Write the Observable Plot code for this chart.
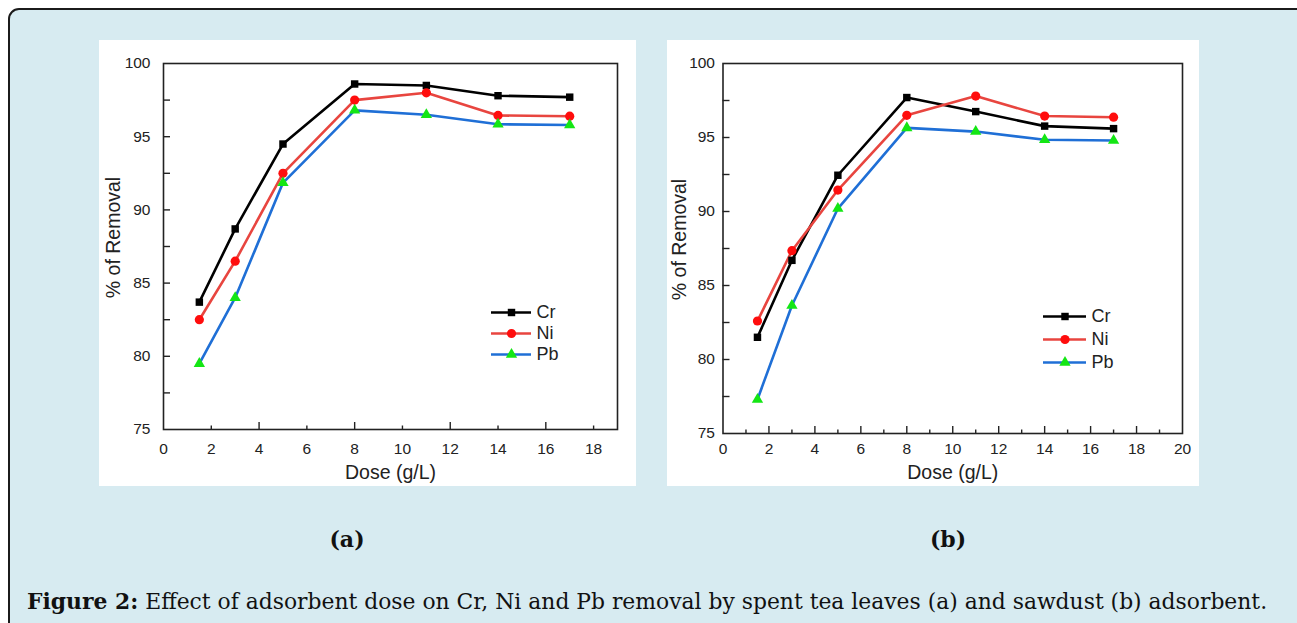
<!DOCTYPE html>
<html>
<head>
<meta charset="utf-8">
<script src="https://cdn.jsdelivr.net/npm/d3@7"></script>
<script src="https://cdn.jsdelivr.net/npm/@observablehq/plot@0.6"></script>
<style>
  html, body { margin: 0; padding: 0; background: #ffffff; width: 1297px; height: 623px; overflow: hidden; }
  #box { position: absolute; left: 8px; top: 8px; width: 1310px; height: 640px; box-sizing: border-box;
         border: 2px solid #1b1b1b; border-radius: 11px; background: #d7ebf1; }
  .panel { position: absolute; top: 40px; background: #fff; }
  .legend { position: absolute; }
  .sub { position: absolute; font-family: "DejaVu Serif", serif; font-weight: bold; font-size: 22px; color: #111;
         transform: translate(-50%, -50%); white-space: nowrap; }
  #caption { position: absolute; left: 27px; top: 0; font-family: "DejaVu Serif", serif; color: #111; white-space: nowrap; }
</style>
</head>
<body>
<div id="box"></div>
<div id="pa" class="panel" style="left:99px;"></div>
<div id="pb" class="panel" style="left:667px;"></div>
<div id="la" class="legend"></div>
<div id="lb" class="legend"></div>
<div class="sub" style="left:347px; top:539px;">(a)</div>
<div class="sub" style="left:948px; top:539px;">(b)</div>
<div id="caption"><b>Figure 2:</b> Effect of adsorbent dose on Cr, Ni and Pb removal by spent tea leaves (a) and sawdust (b) adsorbent.</div>
<script>
// ---------- data ----------
const metals = ["Cr", "Ni", "Pb"];
const dose = [1.5, 3, 5, 8, 11, 14, 17];

// (a) spent tea leaves
const crA = [83.7, 88.7, 94.5, 98.6, 98.5, 97.8, 97.7];
const niA = [82.5, 86.5, 92.5, 97.5, 98.0, 96.45, 96.4];
const pbA = [79.5, 84.0, 91.85, 96.8, 96.5, 95.85, 95.8];

// (b) sawdust
const crB = [81.5, 86.7, 92.45, 97.7, 96.75, 95.77, 95.6];
const niB = [82.6, 87.35, 91.45, 96.5, 97.8, 96.45, 96.37];
const pbB = [77.3, 83.65, 90.2, 95.65, 95.4, 94.85, 94.8];

const yLabelTicks = [75, 80, 85, 90, 95, 100];
const yMinorTicks = [77.5, 80, 82.5, 85, 87.5, 90, 92.5, 95, 97.5];
const xLabelTicksA = [0, 2, 4, 6, 8, 10, 12, 14, 16, 18];
const xLabelTicksB = [0, 2, 4, 6, 8, 10, 12, 14, 16, 18, 20];

// ---------- styles ----------
const lineColor = {Cr: "#000000", Ni: "#e8453f", Pb: "#1f6fd6"};
const markColor = {Cr: "#000000", Ni: "#ff0d0d", Pb: "#14e614"};
const symbol = {Cr: "square", Ni: "circle", Pb: "triangle"};
const markR = {Cr: 4.2, Ni: 4.6, Pb: 4.2};
const FONT = "'Liberation Sans', Arial, sans-serif";

function rows(cr, ni, pb) {
  const out = [];
  dose.forEach((d, i) => {
    out.push({metal: "Cr", dose: d, v: cr[i]});
    out.push({metal: "Ni", dose: d, v: ni[i]});
    out.push({metal: "Pb", dose: d, v: pb[i]});
  });
  return out;
}

function chart(data, o) {
  const seriesMarks = [];
  for (const m of metals) {
    const sub = data.filter(d => d.metal === m);
    seriesMarks.push(Plot.line(sub, {x: "dose", y: "v", stroke: lineColor[m], strokeWidth: 2.6}));
  }
  for (const m of metals) {
    const sub = data.filter(d => d.metal === m);
    seriesMarks.push(Plot.dot(sub, {x: "dose", y: "v", symbol: symbol[m], fill: markColor[m], stroke: "none", r: markR[m]}));
  }
  return Plot.plot({
    width: o.width, height: 446,
    marginLeft: o.ml, marginRight: o.mr, marginTop: 23, marginBottom: o.mb,
    style: {background: "white", fontFamily: FONT, fontSize: "15px", color: "#222", overflow: "visible"},
    x: {domain: o.xdomain},
    y: {domain: [75, 100]},
    marks: [
      ...seriesMarks,
      Plot.frame({stroke: "#222", strokeWidth: 1.6}),
      Plot.axisX({ticks: o.xLabels, tickSize: 0, tickPadding: o.xpad, tickFormat: d => String(d), label: null, fontSize: 15.5}),
      Plot.axisX({ticks: o.xMajor, tickSize: -7, text: null, label: null, strokeWidth: 1.4}),
      Plot.axisX({ticks: o.xMinor, tickSize: -3.5, text: null, label: null, strokeWidth: 1.4}),
      Plot.axisY({ticks: yLabelTicks, tickSize: 0, tickPadding: o.ypad, tickFormat: d => String(d), label: null, fontSize: 15.5}),
      Plot.axisY({ticks: yMinorTicks, tickSize: -7, text: null, label: null, strokeWidth: 1.4}),
      Plot.text(["Dose (g/L)"], {frameAnchor: "bottom", dy: o.xtitleDy, text: d => d, fontSize: 19.5, lineAnchor: "middle", textAnchor: "middle", fill: "#222"}),
      Plot.text(["% of Removal"], {frameAnchor: "left", dx: o.ytitleDx, dy: -9, rotate: -90, text: d => d, fontSize: 19.5, lineAnchor: "middle", textAnchor: "middle", fill: "#222"})
    ]
  });
}

function legend(o) {
  const dots = metals.map(m => Plot.dot([m], {x: 0.5, y: d => d, symbol: symbol[m], fill: markColor[m], r: markR[m], stroke: "none"}));
  return Plot.plot({
    width: 110, height: o.h, margin: 0,
    style: {background: "transparent", fontFamily: FONT, overflow: "visible"},
    x: {domain: [0, 1], range: [0, o.len], axis: null},
    y: {type: "point", domain: metals, range: [10, 10 + 2 * o.gap], padding: 0, axis: null},
    marks: [
      Plot.ruleY(metals, {y: d => d, x1: 0, x2: 1, stroke: d => lineColor[d], strokeWidth: 2.6}),
      ...dots,
      Plot.text(metals, {x: 1, y: d => d, text: d => d, dx: 5, textAnchor: "start", fontSize: 18, fill: "#222"})
    ]
  });
}

document.getElementById("pa").append(chart(rows(crA, niA, pbA), {
  width: 537, ml: 64, mr: 19, mb: 57, xdomain: [0, 19],
  xLabels: xLabelTicksA, xMajor: [4, 8, 12, 16], xMinor: [2, 6, 10, 14, 18],
  xpad: 13, ypad: 13, xtitleDy: 43, ytitleDx: -50
}));
document.getElementById("pb").append(chart(rows(crB, niB, pbB), {
  width: 532, ml: 55.5, mr: 17, mb: 53, xdomain: [0, 20],
  xLabels: xLabelTicksB, xMajor: [2, 4, 6, 8, 10, 12, 14, 16, 18], xMinor: [1, 3, 5, 7, 9, 11, 13, 15, 17, 19],
  xpad: 9, ypad: 8, xtitleDy: 39, ytitleDx: -43
}));

const la = document.getElementById("la");
la.style.left = "491px"; la.style.top = "302px";
la.append(legend({h: 70, len: 40, gap: 21}));
const lb = document.getElementById("lb");
lb.style.left = "1043px"; lb.style.top = "306px";
lb.append(legend({h: 76, len: 43, gap: 23.3}));

// fit caption width
const cap = document.getElementById("caption");
cap.style.fontSize = "20px";
const w = cap.getBoundingClientRect().width;
const fs = 20 * 1241 / w;
cap.style.fontSize = fs + "px";
cap.style.top = (608 - fs * 0.93) + "px";
</script>
</body>
</html>
